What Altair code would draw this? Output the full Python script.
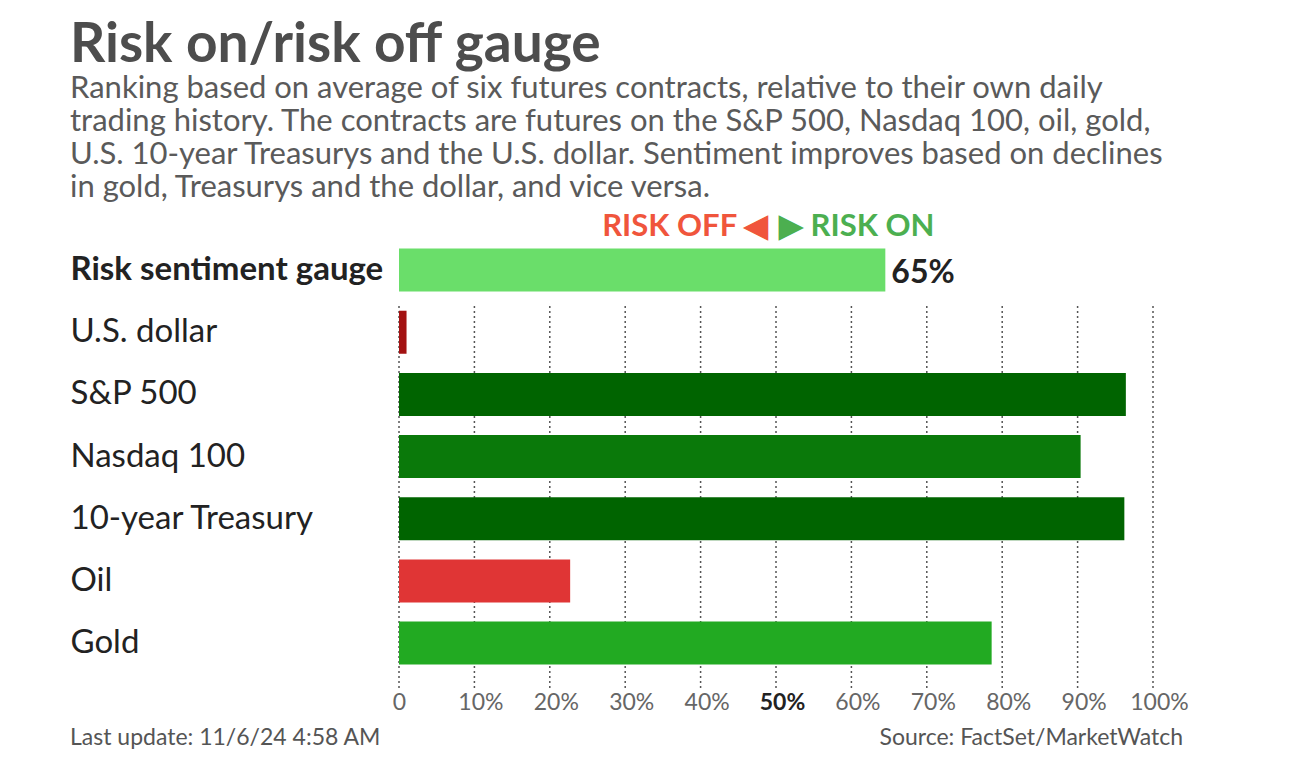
import altair as alt
import pandas as pd

categories = ["Risk sentiment gauge", "U.S. dollar", "S&P 500", "Nasdaq 100",
              "10-year Treasury", "Oil", "Gold"]
values = [64.5, 1.0, 96.4, 90.4, 96.2, 22.7, 78.6]
value_labels = ["65%", "", "", "", "", "", ""]
bar_colors = ["#6ade6a", "#a31212", "#006400", "#0a790a", "#006400", "#e03535", "#22aa22"]
tick_values = [0, 10, 20, 30, 40, 50, 60, 70, 80, 90, 100]

title_text = "Risk on/risk off gauge"
subtitle_lines = [
    "Ranking based on average of six futures contracts, relative to their own daily",
    "trading history. The contracts are futures on the S&P 500, Nasdaq 100, oil, gold,",
    "U.S. 10-year Treasurys and the U.S. dollar. Sentiment improves based on declines",
    "in gold, Treasurys and the dollar, and vice versa.",
]
footer_left = "Last update: 11/6/24 4:58 AM"
footer_right = "Source: FactSet/MarketWatch"

W, H = 754, 449
FONT = "Lato"

df = pd.DataFrame({"cat": categories, "val": values, "lab": value_labels})
grid_df = pd.DataFrame({"t": tick_values})

yscale = alt.Scale(domain=categories, paddingInner=0.308, paddingOuter=0.265, align=0.29)
xscale = alt.Scale(domain=[0, 100], nice=False)

grid = alt.Chart(grid_df).mark_rule(color="#555555", strokeWidth=1.5, strokeDash=[2, 3]).encode(
    x=alt.X("t:Q", scale=xscale, axis=alt.Axis(
        values=tick_values, title=None, domain=False, ticks=False, grid=False,
        labelFontSize=23, labelFont=FONT, labelPadding=3,
        labelOverlap=False, labelBound=False, labelFlush=False,
        labelExpr="datum.value == 0 ? '0' : datum.value + '%'",
        labelOffset=alt.condition("datum.value == 0", alt.value(0), alt.value(6)),
        labelColor=alt.condition("datum.value == 50", alt.value("#222222"), alt.value("#666666")),
        labelFontWeight=alt.condition("datum.value == 50", alt.value("bold"), alt.value("normal")),
    )),
    y=alt.value(67),
    y2=alt.value(H),
)

bars = alt.Chart(df).mark_bar().encode(
    x=alt.X("val:Q", scale=xscale),
    y=alt.Y("cat:N", scale=yscale, sort=categories, axis=alt.Axis(
        title=None, domain=False, ticks=False, grid=False,
        labelAlign="left", labelPadding=329, labelFontSize=33, labelFont=FONT,
        labelColor="#222222", labelLimit=400,
        labelFontWeight=alt.condition("datum.value == 'Risk sentiment gauge'",
                                      alt.value("bold"), alt.value("normal")),
    )),
    color=alt.Color("cat:N", scale=alt.Scale(domain=categories, range=bar_colors), legend=None),
)

vlabels = alt.Chart(df).mark_text(align="left", baseline="middle", dx=6, dy=3,
                                  fontSize=32, fontWeight="bold", font=FONT,
                                  color="#222222").encode(
    x=alt.X("val:Q", scale=xscale),
    y=alt.Y("cat:N", scale=yscale, sort=categories),
    text="lab:N",
)

def txt(s, x, y, size, color, weight="normal", align="left"):
    kw = dict(align=align, baseline="alphabetic", fontSize=size, font=FONT,
              fontWeight=weight, color=color)
    return alt.Chart(pd.DataFrame({"a": [0]})).mark_text(**kw).encode(
        x=alt.value(x), y=alt.value(y), text=alt.value(s))

layers = [grid, bars, vlabels]
layers.append(txt(title_text, -329, -177, 55, "#4d4d4d", "bold"))
for i, line in enumerate(subtitle_lines):
    layers.append(txt(line, -329, -141 + 33 * i, 31, "#5a5a5a"))
layers.append(txt("RISK OFF ◀", 369, -3, 31, "#f0553c", "bold", align="right"))
layers.append(txt("▶ RISK ON", 380, -3, 31, "#4caf50", "bold"))
layers.append(txt(footer_left, -329, 506, 23, "#555555"))
layers.append(txt(footer_right, 784, 506, 23, "#555555", align="right"))

chart = alt.layer(*layers).properties(
    width=W, height=H,
    autosize=alt.AutoSizeParams(type="none"),
    padding={"left": 399, "top": 239, "right": 137, "bottom": 77},
).configure(background="white").configure_view(strokeWidth=0, stroke="transparent")

chart.save("out.html", embed_options={"renderer": "svg", "actions": False})
